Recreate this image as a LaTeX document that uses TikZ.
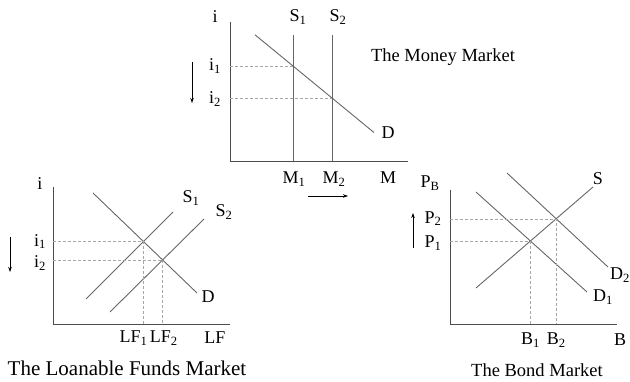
\documentclass[tikz,border=0pt]{standalone}
\usepackage{fontspec}
\setmainfont{Liberation Serif}
\usetikzlibrary{arrows.meta,positioning,calc,intersections}
\newcommand{\sub}[1]{\textsubscript{#1}}

\begin{document}
\begin{tikzpicture}[x=1pt,y=1pt,>={Stealth[length=5pt,width=3.5pt]},
    axis/.style={draw=black!70,line width=0.9pt},
    curve/.style={draw=black!60,line width=0.9pt},
    guide/.style={draw=black!35,dashed,dash pattern=on 3pt off 2pt,line width=0.5pt},
    lbl/.style={font=\fontsize{18}{20}\selectfont,inner sep=1pt},
    shift arrow/.style={->,line width=0.8pt}]
    \useasboundingbox (0,0) rectangle (630,382);

    % Top diagram - the money market
    \begin{scope}[shift={(230,221)}]
        \draw[axis] (0,139) -- (0,0) -- (178,0);
        \node[lbl] (iM) at (-15,144) {i};
        \node[lbl] (xM) at (158,-17) {M};

        % Supply shifts right
        \draw[curve] (63,126) -- (63,0);
        \draw[curve] (102,126) -- (102,0);
        \node[lbl] (S1M) at (68,144) {S\sub{1}};
        \node[lbl] (S2M) at (108,144) {S\sub{2}};

        % Demand
        \draw[curve] (25,126.2) -- (144,28.5);
        \node[lbl] (DM) at (158,28) {D};

        \draw[guide] (0,95) -- (63,95);
        \draw[guide] (0,63) -- (102,63);
        \node[lbl] (i1M) at (-15,95) {i\sub{1}};
        \node[lbl] (i2M) at (-15,62) {i\sub{2}};
        \node[lbl] (M1) at (64,-18) {M\sub{1}};
        \node[lbl] (M2) at (104,-18) {M\sub{2}};

        \coordinate (dnM0) at (-38,99);
        \coordinate (dnM1) at (-38,58);
        \draw[shift arrow] (dnM0) -- (dnM1);
        \coordinate (rtM0) at (78,-35);
        \coordinate (rtM1) at (118,-35);
        \draw[shift arrow] (rtM0) -- (rtM1);

        \node[lbl,font=\fontsize{18.5}{20}\selectfont] (capM) at (213,104) {The Money Market};
    \end{scope}

    % Left diagram - the loanable funds market
    \begin{scope}[shift={(53,58)}]
        \draw[axis] (0,137) -- (0,0) -- (177,0);
        \node[lbl] (iL) at (-13,140) {i};
        \node[lbl] (xL) at (162,-14) {LF};

        \draw[curve,name path=DL] (40,131) -- (144,31);
        \draw[curve,name path=S1L] (33,25) -- (120,112);
        \draw[curve,name path=S2L] (57,12) -- (151,105);
        \path[name intersections={of=DL and S1L,by=E1L}];
        \path[name intersections={of=DL and S2L,by=E2L}];
        \node[lbl] (S1L) at (138,126) {S\sub{1}};
        \node[lbl] (S2L) at (171,112) {S\sub{2}};
        \node[lbl] (DL) at (155,27) {D};

        \draw[guide] (0,0 |- E1L) -- (E1L) -- (E1L |- 0,0);
        \draw[guide] (0,0 |- E2L) -- (E2L) -- (E2L |- 0,0);
        \node[lbl] (i1L) at ($(0,0 |- E1L)+(-13,0)$) {i\sub{1}};
        \node[lbl] (i2L) at ($(0,0 |- E2L)+(-13,-3)$) {i\sub{2}};
        \node[lbl,inner sep=0pt] (LF1) at ($(E1L |- 0,0)+(-10,-14)$) {LF\sub{1}};
        \node[lbl,inner sep=0pt,right=2pt of LF1] (LF2) {LF\sub{2}};

        \coordinate (dnL0) at (-43,87);
        \coordinate (dnL1) at (-43,52);
        \draw[shift arrow] (dnL0) -- (dnL1);

        \node[lbl,font=\fontsize{21}{23}\selectfont] (capL) at (74,-44) {The Loanable Funds Market};
    \end{scope}

    % Right diagram - the bond market
    \begin{scope}[shift={(450,58)}]
        \draw[axis] (0,134) -- (0,0) -- (167,0);
        \node[lbl] (PB) at (-20,141) {P\sub{B}};
        \node[lbl] (xB) at (170,-16) {B};

        \draw[curve,name path=SB] (26,36) -- (143,137);
        \draw[curve,name path=D1B] (26,132) -- (137,32);
        \draw[curve,name path=D2B] (57,151) -- (158,57);
        \path[name intersections={of=SB and D1B,by=E1B}];
        \path[name intersections={of=SB and D2B,by=E2B}];
        \node[lbl] (SB) at (148,145) {S};
        \node[lbl] (D1B) at (153,27) {D\sub{1}};
        \node[lbl] (D2B) at (170,49) {D\sub{2}};

        \draw[guide] (0,0 |- E1B) -- (E1B) -- (E1B |- 0,0);
        \draw[guide] (0,0 |- E2B) -- (E2B) -- (E2B |- 0,0);
        \node[lbl] (P1B) at ($(0,0 |- E1B)+(-17,-2)$) {P\sub{1}};
        \node[lbl] (P2B) at ($(0,0 |- E2B)+(-17,0)$) {P\sub{2}};
        \node[lbl] (B1) at ($(E1B |- 0,0)+(0,-16)$) {B\sub{1}};
        \node[lbl] (B2) at ($(E2B |- 0,0)+(0,-16)$) {B\sub{2}};

        \coordinate (upB0) at (-37,76);
        \coordinate (upB1) at (-37,111);
        \draw[shift arrow] (upB0) -- (upB1);

        \node[lbl,font=\fontsize{18.5}{20}\selectfont] (capB) at (87,-46) {The Bond Market};
    \end{scope}
\end{tikzpicture}
\end{document}
